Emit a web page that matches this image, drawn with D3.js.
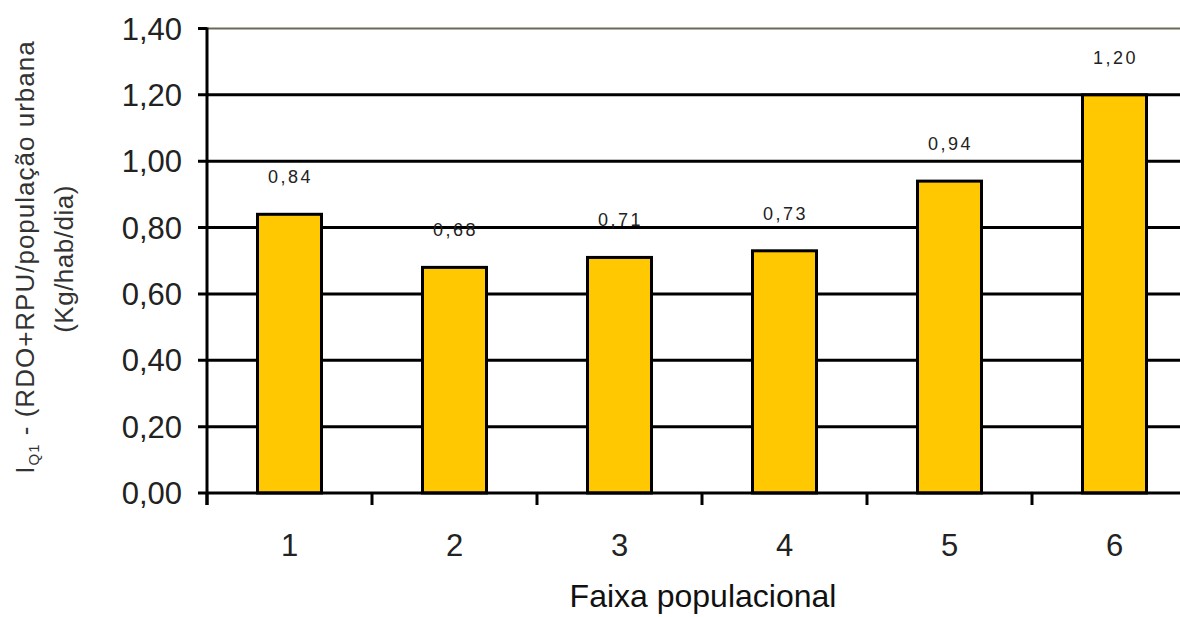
<!DOCTYPE html>
<html>
<head>
<meta charset="utf-8">
<script src="https://cdn.jsdelivr.net/npm/d3@7"></script>
<style>
  html, body { margin: 0; padding: 0; background: #fff; }
  svg { display: block; }
  text { font-family: "Liberation Sans", Arial, sans-serif; }
</style>
</head>
<body>
<svg id="chart" width="1180" height="617"></svg>
<script>
const categories = ["1", "2", "3", "4", "5", "6"];
const values = [0.84, 0.68, 0.71, 0.73, 0.94, 1.20];
const valueLabels = ["0,84", "0,68", "0,71", "0,73", "0,94", "1,20"];
const yTicks = [0, 0.2, 0.4, 0.6, 0.8, 1.0, 1.2, 1.4];
const yTickLabels = ["0,00", "0,20", "0,40", "0,60", "0,80", "1,00", "1,20", "1,40"];
const xTitle = "Faixa populacional";
const yTitleMain = "I";
const yTitleSub = "Q1";
const yTitleRest = " - (RDO+RPU/população urbana";
const yTitleLine2 = "(Kg/hab/dia)";

const svg = d3.select("#chart");
const pLeft = 207, pRight = 1197, pTop = 28.5, pBottom = 493;

const x = d3.scaleBand().domain(categories).range([pLeft, pRight]).paddingInner(0.61).paddingOuter(0.305);
const y = d3.scaleLinear().domain([0, 1.4]).range([pBottom, pTop]);

// gridlines
svg.append("g").selectAll("line").data(yTicks.filter(d => d > 0 && d < 1.4)).join("line")
  .attr("x1", pLeft - 9).attr("x2", 1180)
  .attr("y1", d => y(d)).attr("y2", d => y(d))
  .attr("stroke", "#000").attr("stroke-width", 3);
// top border (1,40)
svg.append("line").attr("x1", pLeft - 9).attr("x2", pLeft).attr("y1", y(1.4)).attr("y2", y(1.4))
  .attr("stroke", "#000").attr("stroke-width", 3);
svg.append("line").attr("x1", pLeft).attr("x2", 1180).attr("y1", y(1.4)).attr("y2", y(1.4))
  .attr("stroke", "#6b6a58").attr("stroke-width", 2);

// bars
const bw = 64;
svg.append("g").selectAll("rect").data(values).join("rect")
  .attr("x", (d, i) => x(categories[i]) + x.bandwidth() / 2 - bw / 2)
  .attr("width", bw)
  .attr("y", d => y(d))
  .attr("height", d => y(0) - y(d))
  .attr("fill", "#FFC800")
  .attr("stroke", "#000").attr("stroke-width", 3);

// value labels
svg.append("g").selectAll("text").data(values).join("text")
  .attr("x", (d, i) => x(categories[i]) + x.bandwidth() / 2 + 1)
  .attr("y", d => y(d) - 31)
  .attr("text-anchor", "middle")
  .attr("font-size", 18)
  .attr("letter-spacing", 2.5)
  .attr("fill", "#222")
  .text((d, i) => valueLabels[i]);

// baseline
svg.append("line").attr("x1", pLeft - 9).attr("x2", 1180).attr("y1", y(0)).attr("y2", y(0))
  .attr("stroke", "#000").attr("stroke-width", 3);
// y axis line
svg.append("line").attr("x1", pLeft).attr("x2", pLeft).attr("y1", y(1.4) - 1).attr("y2", y(0) + 12)
  .attr("stroke", "#000").attr("stroke-width", 3);

// x ticks between categories
const xTickPos = categories.map((c, i) => pLeft + i * x.step()).concat([pRight]);
svg.append("g").selectAll("line").data(xTickPos).join("line")
  .attr("x1", d => d).attr("x2", d => d)
  .attr("y1", y(0)).attr("y2", y(0) + 12)
  .attr("stroke", "#000").attr("stroke-width", 3);

// y tick labels
svg.append("g").selectAll("text").data(yTicks).join("text")
  .attr("x", 182)
  .attr("y", d => y(d) + 11)
  .attr("text-anchor", "end")
  .attr("font-size", 31)
  .attr("fill", "#222")
  .text((d, i) => yTickLabels[i]);

// x category labels
svg.append("g").selectAll("text").data(categories).join("text")
  .attr("x", d => x(d) + x.bandwidth() / 2)
  .attr("y", 556)
  .attr("text-anchor", "middle")
  .attr("font-size", 31)
  .attr("fill", "#222")
  .text(d => d);

// x title
svg.append("text")
  .attr("x", 703).attr("y", 607)
  .attr("text-anchor", "middle")
  .attr("font-size", 32)
  .attr("fill", "#111")
  .text(xTitle);

// y title
const yt = svg.append("text")
  .attr("transform", "translate(34,257) rotate(-90)")
  .attr("text-anchor", "middle")
  .attr("font-size", 26)
  .attr("letter-spacing", 1)
  .attr("fill", "#333");
yt.append("tspan").text(yTitleMain);
yt.append("tspan").attr("font-size", 15).attr("dy", 5).text(yTitleSub);
yt.append("tspan").attr("dy", -5).text(yTitleRest);

svg.append("text")
  .attr("transform", "translate(73,259) rotate(-90)")
  .attr("text-anchor", "middle")
  .attr("font-size", 26)
  .attr("letter-spacing", 0.5)
  .attr("fill", "#333")
  .text(yTitleLine2);
</script>
</body>
</html>
